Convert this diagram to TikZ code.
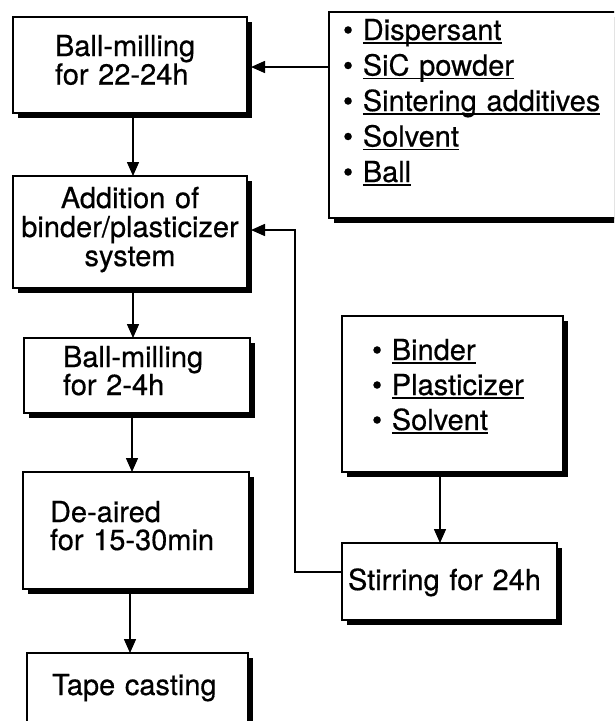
\documentclass[tikz,border=0pt]{standalone}
\usepackage{fontspec}
\setmainfont{TeX Gyre Heros}[FakeBold=0.5]
\usetikzlibrary{arrows.meta,shadows}
\newcommand\ulword[1]{\sbox0{#1}\rlap{\rule[-3.5pt]{\wd0}{1.1pt}}\usebox0}

\begin{document}
\begin{tikzpicture}[
    x=1pt, y=-1pt,
    tcbox/.style={draw=black, fill=white, line width=1.6pt, rectangle, anchor=north west,
        outer sep=0pt, inner ysep=0pt, align=left,
        drop shadow={shadow xshift=5pt, shadow yshift=-5pt, opacity=1, fill=black}},
    tcarrow/.style={draw=black, line width=1.5pt, line join=miter, -{Triangle[length=14pt,width=12pt]}}
]
  \useasboundingbox (0,0) rectangle (614,721);
  \clip (0,0) rectangle (614,721);

  \node[tcbox, inner xsep=42pt, text width=150pt, text height=39pt, text depth=57pt,
        font=\fontsize{29}{27}\selectfont] (mill1) at (13,17) {Ball-milling\\for 22-24h};
  \node[tcbox, align=center, inner xsep=4pt, text width=226pt, text height=32pt, text depth=80pt,
        font=\fontsize{29}{29}\selectfont] (add) at (13,176) {Addition of\\binder/plasticizer\\system};
  \node[tcbox, inner xsep=39pt, text width=148pt, text height=29pt, text depth=46pt,
        font=\fontsize{29}{28}\selectfont] (mill2) at (24,338) {Ball-milling\\for 2-4h};
  \node[tcbox, inner xsep=27pt, text width=172pt, text height=50pt, text depth=67pt,
        font=\fontsize{29}{28}\selectfont] (deair) at (23,472) {De-aired\\for 15-30min};
  \node[tcbox, inner xsep=25pt, text width=171pt, text height=42pt, text depth=65pt,
        font=\fontsize{29}{28}\selectfont] (tape) at (27,653) {Tape casting};

  \node[tcbox, inner xsep=14pt, text width=293pt, text height=28pt, text depth=178pt,
        font=\fontsize{29}{35.5}\selectfont] (powder) at (329,12)
        {\textbullet\ \ulword{Dispersant}\\\textbullet\ \ulword{SiC powder}\\
         \textbullet\ \ulword{Sintering additives}\\\textbullet\ \ulword{Solvent}\\
         \textbullet\ \ulword{Ball}};
  \node[tcbox, inner xsep=30pt, text width=161pt, text height=44pt, text depth=112pt,
        font=\fontsize{29}{35}\selectfont] (binder) at (342,316)
        {\textbullet\ \ulword{Binder}\\\textbullet\ \ulword{Plasticizer}\\\textbullet\ \ulword{Solvent}};
  \node[tcbox, inner xsep=6pt, text width=203pt, text height=47pt, text depth=30pt,
        font=\fontsize{29}{28}\selectfont] (stir) at (342,543) {Stirring for 24h};

  % main line
  \draw[tcarrow] ([xshift=3pt]mill1.south) -- ([xshift=3pt]add.north);
  \draw[tcarrow] ([xshift=3pt]add.south) -- ([xshift=-4pt]mill2.north);
  \draw[tcarrow] ([xshift=-5pt]mill2.south) -- ([xshift=-4pt]deair.north);
  \draw[tcarrow] ([xshift=-6pt]deair.south) -- ([xshift=-7.5pt]tape.north);

  \coordinate (inlet) at ([xshift=4pt,yshift=-2pt]mill1.east);
  \draw[tcarrow] (inlet -| powder.west) -- (inlet);
  \draw[tcarrow] ([xshift=-12.5pt]binder.south) -- ([xshift=-9.5pt]stir.north);
  \draw[tcarrow] ([yshift=9.5pt]stir.west) -- ++(-47,0) |- ([xshift=4pt,yshift=2pt]add.east);
\end{tikzpicture}
\end{document}
